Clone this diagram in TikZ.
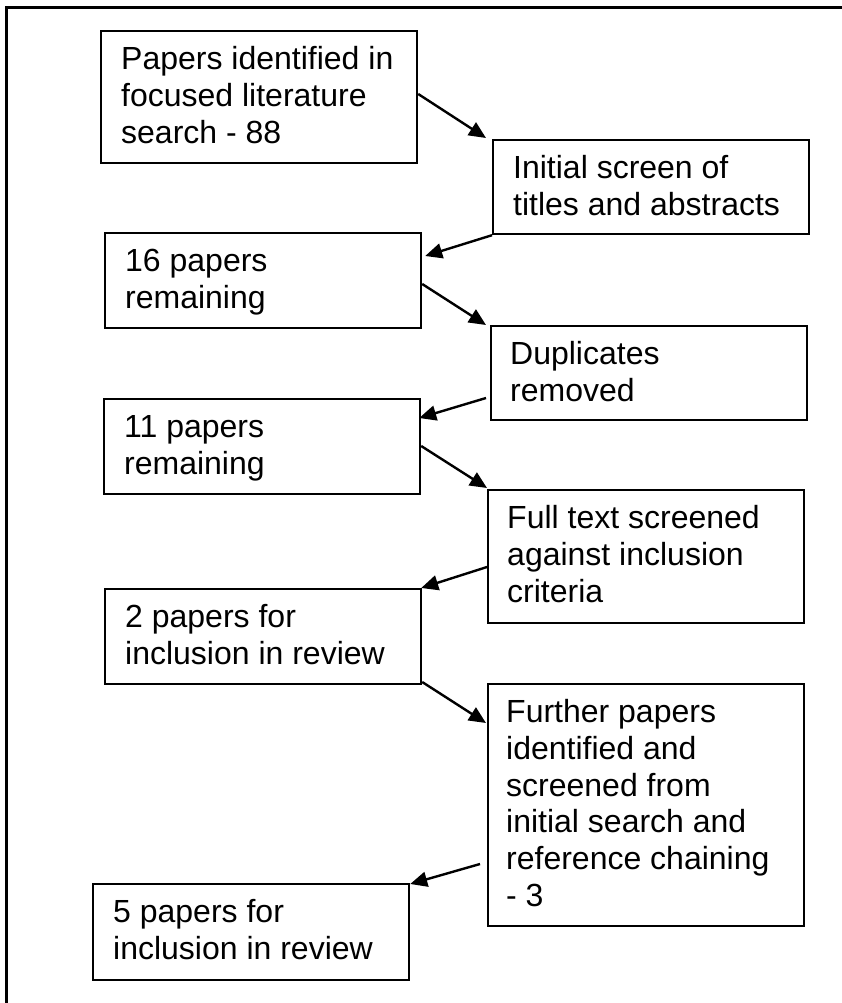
\documentclass[tikz,border=0pt]{standalone}
\usepackage{fontspec}
\setmainfont{Liberation Sans}
\usetikzlibrary{arrows.meta,calc}
\tikzset{
  box/.style={draw=black, line width=2.2pt, minimum width=316pt, anchor=north west, inner sep=0pt, fill=white},
  txt/.style={anchor=base west, inner sep=0pt, font=\fontsize{32pt}{36.8pt}\selectfont},
  conn/.style={line width=2.4pt, -{Triangle[length=17pt,width=15pt]}},
  frame/.style={line width=2.5pt}
}
\newcommand{\boxtext}[1]{\parbox[t]{300pt}{\raggedright #1}}
\begin{document}
\begin{tikzpicture}[x=1pt,y=-1pt]
\useasboundingbox (0,0) rectangle (842,1003);
\coordinate (fa) at (842,7.3);
\coordinate (fb) at (6.7,7.3);
\coordinate (fc) at (6.7,1003);
\draw[frame] (fa) -- (fb) -- (fc);

\node[box, minimum height=132pt] (b1) at (100,30) {};
\node[box, minimum height=94pt] (b2) at (492,139) {};
\node[box, minimum height=95pt] (b3) at (104,232) {};
\node[box, minimum height=94pt] (b4) at (490,325) {};
\node[box, minimum height=95pt] (b5) at (103,398) {};
\node[box, minimum height=133pt] (b6) at (487,489) {};
\node[box, minimum height=95pt] (b7) at (104,588) {};
\node[box, minimum height=242pt] (b8) at (487,683) {};
\node[box, minimum height=96pt] (b9) at (92,883) {};

\node[txt] (t1) at ($(b1.north west)+(21,39.5)$) {\boxtext{Papers identified in\\focused literature\\search - 88}};
\node[txt] (t2) at ($(b2.north west)+(21,39.5)$) {\boxtext{Initial screen of\\titles and abstracts}};
\node[txt] (t3) at ($(b3.north west)+(21,39.5)$) {\boxtext{16 papers\\remaining}};
\node[txt] (t4) at ($(b4.north west)+(20,39.5)$) {\boxtext{Duplicates\\removed}};
\node[txt] (t5) at ($(b5.north west)+(21,39.5)$) {\boxtext{11 papers\\remaining}};
\node[txt] (t6) at ($(b6.north west)+(20,39.5)$) {\boxtext{Full text screened\\against inclusion\\criteria}};
\node[txt] (t7) at ($(b7.north west)+(21,39.5)$) {\boxtext{2 papers for\\inclusion in review}};
\node[txt] (t8) at ($(b8.north west)+(19,39.5)$) {\boxtext{Further papers\\identified and\\screened from\\initial search and\\reference chaining\\- 3}};
\node[txt] (t9) at ($(b9.north west)+(21,39.5)$) {\boxtext{5 papers for\\inclusion in review}};

\draw[conn] ($(b1.north east)+(0,64)$) -- ($(b2.north west)+(-6,-1)$);
\draw[conn] (b2.south west) -- ($(b3.north east)+(3,24)$);
\draw[conn] ($(b3.north east)+(0,52)$) -- ($(b4.north west)+(-4,0)$);
\draw[conn] ($(b4.north west)+(-4,73)$) -- ($(b5.north east)+(-2,20)$);
\draw[conn] ($(b5.north east)+(0,48)$) -- ($(b6.north west)+(0,-1)$);
\draw[conn] ($(b6.north west)+(0,78)$) -- ($(b7.north east)+(-1,0)$);
\draw[conn] ($(b7.north east)+(0,94)$) -- ($(b8.north west)+(-1,40)$);
\draw[conn] ($(b8.north west)+(-7,181)$) -- ($(b9.north east)+(0,1)$);
\end{tikzpicture}
\end{document}
